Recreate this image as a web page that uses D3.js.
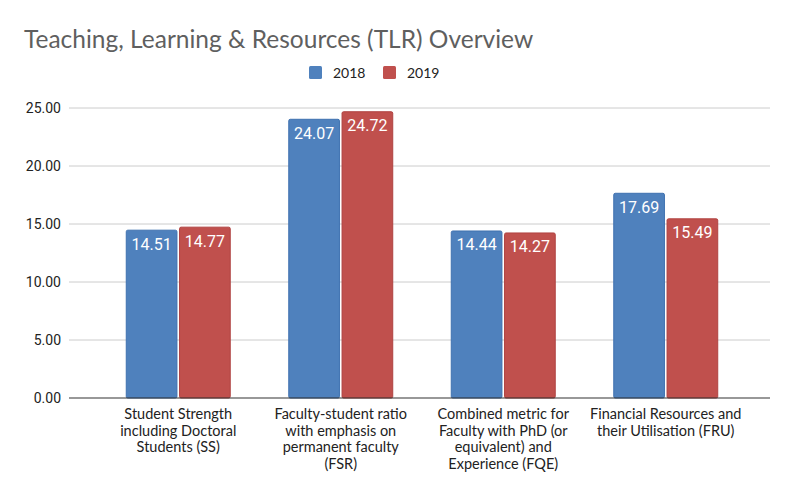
<!DOCTYPE html>
<html>
<head>
<meta charset="utf-8">
<script src="https://cdn.jsdelivr.net/npm/d3@7"></script>
<style>
  body { margin: 0; background: #fff; }
  svg { display: block; }
</style>
</head>
<body>
<svg width="800" height="495"></svg>
<script>
const categories = [
    ['Student Strength', 'including Doctoral', 'Students (SS)'],
    ['Faculty-student ratio', 'with emphasis on', 'permanent faculty', '(FSR)'],
    ['Combined metric for', 'Faculty with PhD (or', 'equivalent) and', 'Experience (FQE)'],
    ['Financial Resources and', 'their Utilisation (FRU)']
];
const series = ['2018', '2019'];
const values2018 = [14.51, 24.07, 14.44, 17.69];
const values2019 = [14.77, 24.72, 14.27, 15.49];
const yTicks = [0, 5, 10, 15, 20, 25];

const colors = ['#4f81bd', '#c0504d'];
const strokes = ['#3f71b0', '#b04240'];

const svg = d3.select('svg');
const labelFont = 'Lato, "Open Sans", sans-serif';

const y = d3.scaleLinear().domain([0, 25]).range([398, 108]);
const x = d3.scaleBand().domain(d3.range(categories.length)).range([97, 747]).paddingInner(0.354).paddingOuter(0.177);
const xs = d3.scaleBand().domain(series).range([0, x.bandwidth()]).paddingInner(0.03);

// title
svg.append('text')
    .attr('x', 24).attr('y', 48)
    .attr('font-family', labelFont)
    .attr('font-size', 24.5)
    .attr('fill', '#5f5f5f')
    .text('Teaching, Learning & Resources (TLR) Overview');

// legend
const legend = svg.append('g').attr('transform', 'translate(309, 66)');
series.forEach((s, i) => {
    const g = legend.append('g').attr('transform', `translate(${i * 74}, 0)`);
    g.append('rect').attr('width', 13).attr('height', 13).attr('rx', 1.5)
        .attr('fill', colors[i]);
    g.append('text').attr('x', 24).attr('y', 11.5)
        .attr('font-family', labelFont).attr('font-size', 14).attr('fill', '#222')
        .text(s);
});

// gridlines
svg.append('g')
    .selectAll('line')
    .data(yTicks.filter(d => d > 0))
    .join('line')
    .attr('x1', 69).attr('x2', 770)
    .attr('y1', d => y(d)).attr('y2', d => y(d))
    .attr('stroke', '#cccccc').attr('stroke-width', 1);

// y tick labels
svg.append('g')
    .selectAll('text')
    .data(yTicks)
    .join('text')
    .attr('x', 61).attr('y', d => y(d) + 5)
    .attr('text-anchor', 'end')
    .attr('font-family', 'Roboto, sans-serif')
    .attr('font-size', 14)
    .attr('fill', '#222')
    .text(d => d.toFixed(2));

// bars
const groups = svg.append('g')
    .selectAll('g')
    .data(categories.map((c, i) => [values2018[i], values2019[i]]))
    .join('g')
    .attr('transform', (d, i) => `translate(${x(i)}, 0)`);

groups.selectAll('rect')
    .data(d => d.map((v, j) => ({ v, s: series[j], j })))
    .join('rect')
    .attr('x', d => xs(d.s) + 0.5)
    .attr('y', d => y(d.v) + 0.5)
    .attr('width', xs.bandwidth() - 1)
    .attr('height', d => y(0) - y(d.v) - 0.5)
    .attr('rx', 1.5)
    .attr('fill', d => colors[d.j])
    .attr('stroke', d => strokes[d.j]);

groups.selectAll('text')
    .data(d => d.map((v, j) => ({ v, s: series[j], j })))
    .join('text')
    .attr('x', d => xs(d.s) + xs.bandwidth() / 2)
    .attr('y', d => y(d.v) + 20)
    .attr('text-anchor', 'middle')
    .attr('font-family', 'Roboto, sans-serif')
    .attr('font-size', 16)
    .attr('fill', '#fff')
    .text(d => d.v.toFixed(2));

// zero line
svg.append('line')
    .attr('x1', 69).attr('x2', 770)
    .attr('y1', y(0)).attr('y2', y(0))
    .attr('stroke', '#333').attr('stroke-width', 1.2);

// category labels
svg.append('g')
    .selectAll('text')
    .data(categories)
    .join('text')
    .attr('x', (d, i) => x(i) + x.bandwidth() / 2)
    .attr('y', 419)
    .attr('text-anchor', 'middle')
    .attr('font-family', labelFont)
    .attr('font-size', 14.5)
    .attr('fill', '#222')
    .selectAll('tspan')
    .data(d => d)
    .join('tspan')
    .attr('x', function() { return this.parentNode.getAttribute('x'); })
    .attr('dy', (d, i) => i === 0 ? 0 : 16.5)
    .text(d => d);
</script>
</body>
</html>
